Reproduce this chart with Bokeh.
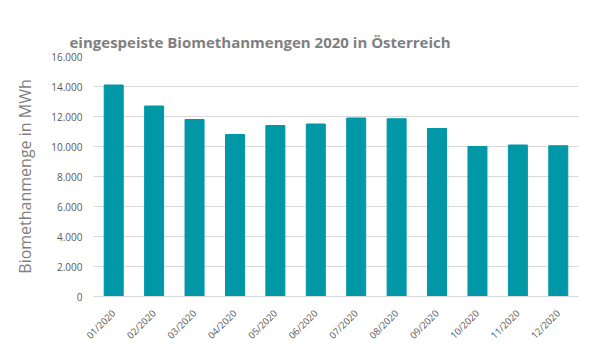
import math
from bokeh.plotting import figure
from bokeh.models import FactorRange, Range1d, SingleIntervalTicker, CustomJSTickFormatter
from bokeh.embed import file_html
from bokeh.resources import INLINE

months = ["01/2020", "02/2020", "03/2020", "04/2020", "05/2020", "06/2020",
          "07/2020", "08/2020", "09/2020", "10/2020", "11/2020", "12/2020"]
values = [14100, 12700, 11800, 10800, 11400, 11500, 11900, 11850, 11200, 10000, 10100, 10050]

title_text = "eingespeiste Biomethanmengen 2020 in Österreich"
y_label = "Biomethanmenge in MWh"

p = figure(frame_width=485, frame_height=240, output_backend="svg", toolbar_location=None,
           x_range=FactorRange(*months, range_padding=0), y_range=Range1d(0, 16000),
           min_border_left=93, min_border_right=6, min_border_top=56, min_border_bottom=58)
p.border_fill_color = "white"
p.outline_line_color = None

p.vbar(x=months, top=values, width=0.47, color="#0097a7")

p.xgrid.grid_line_color = None
p.ygrid.grid_line_color = "#d9d9d9"
p.yaxis.ticker = SingleIntervalTicker(interval=2000)
p.yaxis.formatter = CustomJSTickFormatter(code="return tick.toFixed(0).replace(/\\B(?=(\\d{3})+(?!\\d))/g, '.');")
p.yaxis.axis_line_color = None
p.yaxis.major_tick_line_color = None
p.yaxis.minor_tick_line_color = None
p.yaxis.major_label_text_font = "Open Sans"
p.yaxis.major_label_text_font_size = "10px"
p.yaxis.major_label_text_color = "#595959"
p.yaxis.major_label_standoff = 5
p.yaxis.axis_label = y_label
p.yaxis.axis_label_text_font = "Open Sans"
p.yaxis.axis_label_text_font_style = "normal"
p.yaxis.axis_label_text_font_size = "16px"
p.yaxis.axis_label_text_color = "#7f7f7f"
p.yaxis.axis_label_standoff = 12

p.xaxis.axis_line_color = "#d9d9d9"
p.xaxis.major_tick_line_color = None
p.xaxis.minor_tick_line_color = None
p.xaxis.major_label_orientation = math.pi / 4
p.xaxis.major_label_standoff = 9
p.xaxis.major_label_text_font = "Open Sans"
p.xaxis.major_label_text_font_size = "9.5px"
p.xaxis.major_label_text_color = "#595959"

p.title.text = title_text
p.title.align = "left"
p.title.offset = -24
p.title.text_font = "Open Sans"
p.title.text_font_size = "15px"
p.title.text_font_style = "bold"
p.title.text_color = "#7f7f7f"

open("out.html", "w").write(file_html(p, INLINE))
